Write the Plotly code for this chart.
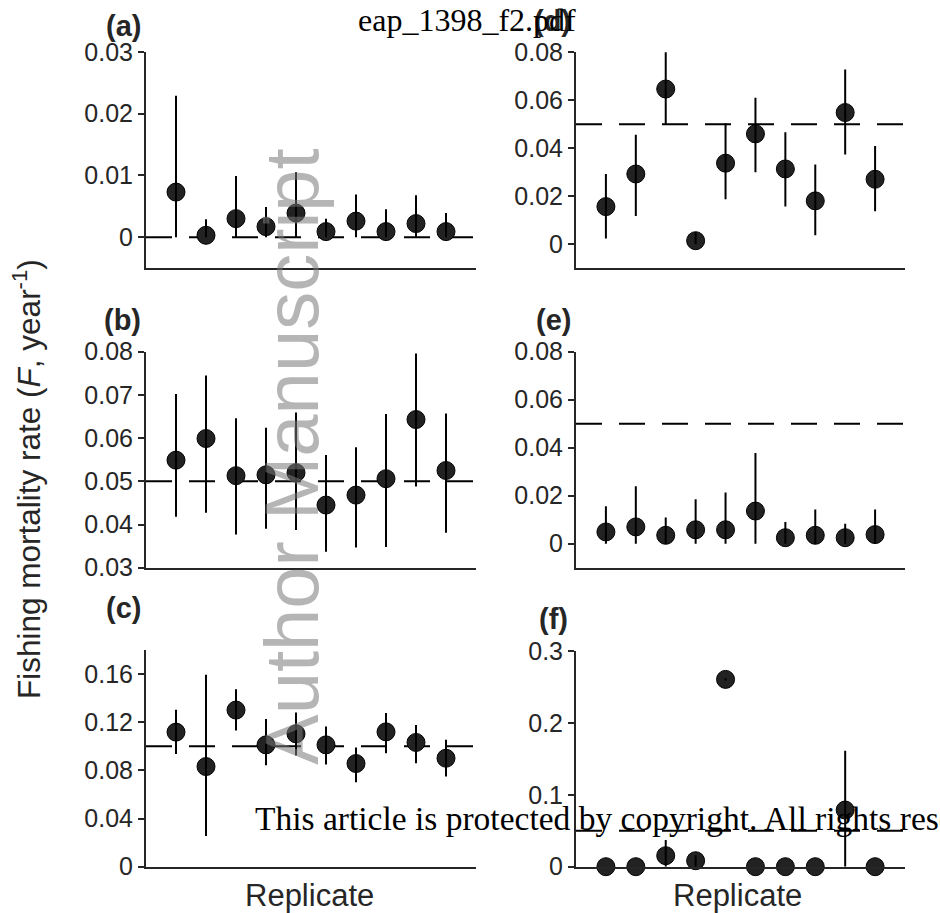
import plotly.graph_objects as go

# ---------------- data ----------------
replicates = [1, 2, 3, 4, 5, 6, 7, 8, 9, 10]

# (a)
f_a = [0.0073, 0.0003, 0.0030, 0.0017, 0.0039, 0.0009, 0.0026, 0.0009, 0.0022, 0.0009]
hi_a = [0.0229, 0.0029, 0.0099, 0.0049, 0.0105, 0.0030, 0.0069, 0.0045, 0.0068, 0.0039]
lo_a = [0.0, 0.0, 0.0, 0.0, 0.0, 0.0, 0.0, 0.0, 0.0, 0.0]
# (b)
f_b = [0.0549, 0.0599, 0.0513, 0.0515, 0.0520, 0.0445, 0.0468, 0.0506, 0.0643, 0.0525]
hi_b = [0.0702, 0.0745, 0.0646, 0.0624, 0.0659, 0.0561, 0.0579, 0.0656, 0.0796, 0.0657]
lo_b = [0.0418, 0.0427, 0.0377, 0.0390, 0.0387, 0.0337, 0.0347, 0.0348, 0.0488, 0.0381]
# (c)
f_c = [0.1118, 0.0832, 0.1301, 0.1012, 0.1104, 0.1012, 0.0857, 0.1120, 0.1032, 0.0901]
hi_c = [0.1303, 0.1595, 0.1475, 0.1226, 0.1281, 0.1165, 0.0990, 0.1276, 0.1176, 0.1054]
lo_c = [0.0937, 0.0255, 0.1131, 0.0843, 0.0923, 0.0849, 0.0702, 0.0943, 0.0860, 0.0749]
# (d)
f_d = [0.0157, 0.0293, 0.0647, 0.0015, 0.0338, 0.0460, 0.0314, 0.0181, 0.0549, 0.0271]
hi_d = [0.0293, 0.0456, 0.0803, 0.0050, 0.0504, 0.0611, 0.0467, 0.0332, 0.0728, 0.0410]
lo_d = [0.0024, 0.0118, 0.0500, 0.0000, 0.0188, 0.0300, 0.0157, 0.0038, 0.0374, 0.0138]
# (e)
f_e = [0.0049, 0.0070, 0.0035, 0.0058, 0.0058, 0.0136, 0.0025, 0.0035, 0.0025, 0.0038]
hi_e = [0.0156, 0.0239, 0.0109, 0.0185, 0.0213, 0.0378, 0.0090, 0.0143, 0.0083, 0.0142]
lo_e = [0.0, 0.0, 0.0, 0.0, 0.0, 0.0, 0.0, 0.0, 0.0, 0.0]
# (f)
f_f = [0.0, 0.0, 0.0153, 0.0083, 0.2605, 0.0, 0.0, 0.0, 0.0788, 0.0]
hi_f = [0.0, 0.0, 0.0370, 0.0160, 0.2620, 0.0, 0.0, 0.0, 0.1613, 0.0]
lo_f = [0.0, 0.0, 0.0, 0.0, 0.2590, 0.0, 0.0, 0.0, 0.0, 0.0]

# target fishing mortality (dashed line) per panel
target_a, target_b, target_c = 0.0, 0.05, 0.10
target_d, target_e, target_f = 0.05, 0.05, 0.05

# y ticks
ticks_a = [0, 0.01, 0.02, 0.03]
ticks_b = [0.03, 0.04, 0.05, 0.06, 0.07, 0.08]
ticks_c = [0, 0.04, 0.08, 0.12, 0.16]
ticks_d = [0, 0.02, 0.04, 0.06, 0.08]
ticks_e = [0, 0.02, 0.04, 0.06, 0.08]
ticks_f = [0, 0.1, 0.2, 0.3]
labels_a = ["0", "0.01", "0.02", "0.03"]
labels_b = ["0.03", "0.04", "0.05", "0.06", "0.07", "0.08"]
labels_c = ["0", "0.04", "0.08", "0.12", "0.16"]
labels_d = ["0", "0.02", "0.04", "0.06", "0.08"]
labels_e = ["0", "0.02", "0.04", "0.06", "0.08"]
labels_f = ["0", "0.1", "0.2", "0.3"]

panel_names = ["(a)", "(b)", "(c)", "(d)", "(e)", "(f)"]
x_title = "Replicate"
y_title = "Fishing mortality rate (<i>F</i>, year<sup>-1</sup>)"

# ---------------- layout helpers ----------------
W, H = 940, 913
FONT = "Liberation Sans, Arial, Helvetica, sans-serif"
SERIF = "Liberation Serif, Times New Roman, serif"
AXC = "#262626"


def px_x(p):
    return p / W


def px_y(p):
    return 1 - p / H


panels = [
    # name, values, lo, hi, target, ticks, labels, yrange, (x0,x1), (ytop,ybot)
    ("a", f_a, lo_a, hi_a, target_a, ticks_a, labels_a, [-0.005, 0.03], (146, 476), (52, 268)),
    ("b", f_b, lo_b, hi_b, target_b, ticks_b, labels_b, [0.03, 0.08], (146, 476), (351.7, 567.7)),
    ("c", f_c, lo_c, hi_c, target_c, ticks_c, labels_c, [0, 0.18], (146, 476), (650, 866.7)),
    ("d", f_d, lo_d, hi_d, target_d, ticks_d, labels_d, [-0.01, 0.08], (576, 905), (52.3, 268.3)),
    ("e", f_e, lo_e, hi_e, target_e, ticks_e, labels_e, [-0.01, 0.08], (576, 905), (351.7, 567.7)),
    ("f", f_f, lo_f, hi_f, target_f, ticks_f, labels_f, [0, 0.3], (576, 905), (651, 866.7)),
]

fig = go.Figure()
layout = dict(
    width=W, height=H,
    margin=dict(l=0, r=0, t=0, b=0, pad=0),
    paper_bgcolor="white", plot_bgcolor="white",
    showlegend=False,
    font=dict(family=FONT, color=AXC),
)
shapes = []

for i, (nm, vals, lo, hi, tgt, tv, tt, yr, (x0, x1), (yt, yb)) in enumerate(panels):
    k = i + 1
    xa = "x" if k == 1 else f"x{k}"
    ya = "y" if k == 1 else f"y{k}"
    xkey = "xaxis" if k == 1 else f"xaxis{k}"
    ykey = "yaxis" if k == 1 else f"yaxis{k}"
    layout[xkey] = dict(
        domain=[px_x(x0), px_x(x1)], range=[0, 11], anchor=ya, automargin=False,
        showline=True, linecolor=AXC, linewidth=2, ticks="",
        showticklabels=False, showgrid=False, zeroline=False,
    )
    layout[ykey] = dict(
        domain=[px_y(yb), px_y(yt)], range=yr, anchor=xa, automargin=False,
        showline=True, linecolor=AXC, linewidth=2,
        ticks="outside", ticklen=6, tickwidth=2, tickcolor=AXC,
        tickvals=tv, ticktext=tt, tickfont=dict(family=FONT, size=25, color=AXC),
        showgrid=False, zeroline=False,
    )
    shapes.append(dict(
        type="line", xref=f"{xa} domain", yref=ya, x0=0, x1=1, y0=tgt, y1=tgt,
        line=dict(color="black", width=2, dash="26px,17px"), layer="below",
    ))
    err_plus = [h - v for h, v in zip(hi, vals)]
    err_minus = [v - l for v, l in zip(vals, lo)]
    fig.add_trace(go.Scatter(
        x=replicates, y=vals, mode="markers", xaxis=xa, yaxis=ya,
        marker=dict(size=18, color="#222222", line=dict(color="black", width=1)),
        cliponaxis=False, hoverinfo="skip",
    ))
    fig.add_trace(go.Scatter(
        x=replicates, y=vals, mode="markers", xaxis=xa, yaxis=ya,
        marker=dict(size=2, opacity=0),
        error_y=dict(type="data", symmetric=False, array=err_plus, arrayminus=err_minus,
                     color="black", thickness=2, width=0),
        cliponaxis=False, hoverinfo="skip",
    ))

annotations = []
# panel labels
label_pos = [(143, 26), (143, 320), (143, 608), (573, 21), (573, 320), (570, 619)]
for name, (lx, ly) in zip(panel_names, label_pos):
    annotations.append(dict(
        text=f"<b>{name}</b>", x=px_x(lx), y=px_y(ly), xref="paper", yref="paper",
        xanchor="right", yanchor="middle", showarrow=False,
        font=dict(family=FONT, size=29, color=AXC),
    ))
# x titles
for cx in (309, 737):
    annotations.append(dict(
        text=x_title, x=px_x(cx), y=px_y(895), xref="paper", yref="paper",
        xanchor="center", yanchor="middle", showarrow=False,
        font=dict(family=FONT, size=31, color=AXC),
    ))
# y title
annotations.append(dict(
    text=y_title, x=px_x(27), y=px_y(479), xref="paper", yref="paper",
    xanchor="center", yanchor="middle", textangle=-90, showarrow=False,
    font=dict(family=FONT, size=31.5, color=AXC),
))
# watermark
annotations.append(dict(
    text="Author Manuscript", x=px_x(291), y=px_y(457), xref="paper", yref="paper",
    xanchor="center", yanchor="middle", textangle=-90, showarrow=False,
    font=dict(family=FONT, size=76, color="rgba(120,120,120,0.55)"),
))
# file name header
annotations.append(dict(
    text="eap_1398_f2.pdf", x=px_x(356), y=px_y(20), xref="paper", yref="paper",
    xanchor="left", yanchor="middle", showarrow=False,
    font=dict(family=SERIF, size=32, color="black"),
))
# copyright footer
annotations.append(dict(
    text="This article is protected by copyright. All rights reserved.",
    x=px_x(253), y=px_y(818), xref="paper", yref="paper",
    xanchor="left", yanchor="middle", showarrow=False,
    font=dict(family=SERIF, size=33.5, color="black"),
))

layout["shapes"] = shapes
layout["annotations"] = annotations
fig.update_layout(**layout)
fig.write_html("out.html")
